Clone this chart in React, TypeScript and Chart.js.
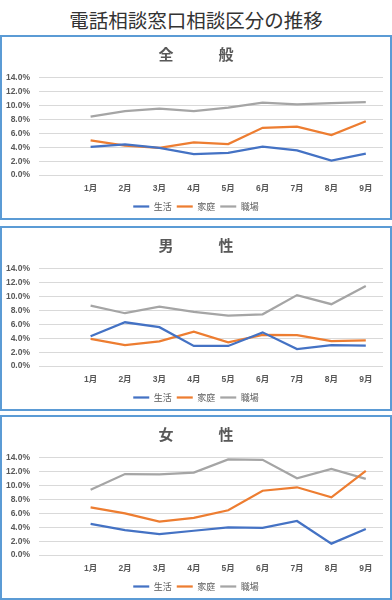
import React, { useEffect, useRef } from 'react';
import { Chart, registerables } from 'chart.js';

Chart.register(...registerables);

const pageTitle = '電話相談窓口相談区分の推移';
const categories = ['', '1月', '2月', '3月', '4月', '5月', '6月', '7月', '8月', '9月'];
const seriesNames = ['生活', '家庭', '職場'];
const seriesColors = ['#4472C4', '#ED7D31', '#A5A5A5'];
const yMin = 0;
const yMax = 14;
const yStep = 2;

const panelTitles = ['全　　　般', '男　　　性', '女　　　性'];

const allLife = [null, 4.05, 4.4, 3.9, 3.0, 3.2, 4.1, 3.55, 2.1, 3.1];
const allHome = [null, 5.0, 4.25, 3.9, 4.7, 4.45, 6.8, 6.95, 5.75, 7.75];
const allWork = [null, 8.4, 9.2, 9.55, 9.2, 9.7, 10.4, 10.15, 10.35, 10.5];

const maleLife = [null, 4.3, 6.3, 5.6, 2.9, 2.9, 4.85, 2.45, 3.0, 2.95];
const maleHome = [null, 3.9, 3.0, 3.55, 4.95, 3.4, 4.5, 4.45, 3.6, 3.7];
const maleWork = [null, 8.7, 7.6, 8.55, 7.8, 7.25, 7.45, 10.2, 8.9, 11.5];

const femaleLife = [null, 4.5, 3.6, 3.0, 3.5, 4.0, 3.9, 4.9, 1.65, 3.75];
const femaleHome = [null, 6.85, 6.0, 4.8, 5.35, 6.45, 9.25, 9.75, 8.3, 12.1];
const femaleWork = [null, 9.4, 11.65, 11.6, 11.85, 13.75, 13.7, 11.05, 12.4, 10.95];

const panelData = [
  [allLife, allHome, allWork],
  [maleLife, maleHome, maleWork],
  [femaleLife, femaleHome, femaleWork],
];

const panelTops = [35, 226, 415];
const PANEL_H = 185;
const BORDER = 2;
const CANVAS_W = 392 - BORDER * 2;
const CANVAS_H = 184;

const JP = "'Liberation Sans', 'Noto Sans CJK JP', sans-serif";

function Panel({ title, series, top }: { title: string; series: (number | null)[][]; top: number }) {
  const ref = useRef<HTMLCanvasElement>(null);
  useEffect(() => {
    if (!ref.current) return;
    const chart = new Chart(ref.current, {
      type: 'line',
      data: {
        labels: categories,
        datasets: seriesNames.map((name, i) => ({
          label: name,
          data: series[i],
          borderColor: seriesColors[i],
          backgroundColor: seriesColors[i],
          borderWidth: 2.25,
          pointRadius: 0,
          tension: 0,
          fill: false,
          yAxisID: 'y',
        })),
      },
      options: {
        responsive: false,
        animation: false,
        devicePixelRatio: 1,
        layout: { padding: { left: 0, right: 0, top: 0, bottom: 0 } },
        plugins: {
          title: {
            display: true,
            text: title,
            color: '#595959',
            font: { family: "'Noto Sans CJK JP', sans-serif", size: 15, weight: 'bold', lineHeight: 1.2 },
            padding: { top: 8, bottom: 14.7 },
          },
          legend: {
            display: true,
            position: 'bottom',
            labels: {
              usePointStyle: true,
              pointStyle: 'line',
              pointStyleWidth: 16,
              padding: 5,
              color: '#595959',
              font: { family: "'Noto Sans CJK JP', sans-serif", size: 9 },
            },
          },
          tooltip: { enabled: false },
        },
        scales: {
          x: {
            offset: true,
            grid: { display: false, drawTicks: false },
            border: { display: false },
            ticks: {
              padding: 8.3,
              color: '#595959',
              maxRotation: 0,
              autoSkip: false,
              font: { family: JP, size: 8.5, weight: 'bold' },
            },
            afterFit: (scale: any) => {
              scale.height = 21.9;
            },
          },
          y: {
            min: yMin,
            max: yMax,
            grid: { color: '#D9D9D9', lineWidth: 1, drawTicks: false },
            border: { display: false },
            ticks: {
              stepSize: yStep,
              autoSkip: false,
              padding: 9,
              color: '#595959',
              font: { family: JP, size: 8.5, weight: 'bold' },
              callback: (v: any) => Number(v).toFixed(1) + '%',
            },
            afterFit: (scale: any) => {
              scale.width = 37;
            },
          },
          yRight: {
            position: 'right',
            display: true,
            min: yMin,
            max: yMax,
            grid: { display: false, drawTicks: false },
            border: { display: false },
            ticks: { display: false },
            afterFit: (scale: any) => {
              scale.width = 7;
            },
          },
        },
      },
    } as any);
    return () => chart.destroy();
  }, [title, series]);

  return (
    <div
      style={{
        position: 'absolute',
        left: 0,
        top,
        width: 392,
        height: PANEL_H,
        boxSizing: 'border-box',
        border: `${BORDER}px solid #5B9BD5`,
        background: '#fff',
      }}
    >
      <canvas
        ref={ref}
        width={CANVAS_W}
        height={CANVAS_H}
        style={{ position: 'absolute', left: 0, top: 0, display: 'block', width: CANVAS_W, height: CANVAS_H }}
      />
    </div>
  );
}

export default function App() {
  return (
    <div style={{ position: 'absolute', left: 0, top: 0, width: 392, height: 600, background: '#fff', overflow: 'hidden' }}>
      <div
        style={{
          position: 'absolute',
          left: 0,
          top: 8,
          width: 392,
          textAlign: 'center',
          fontFamily: "'Noto Sans CJK JP', sans-serif",
          fontSize: 19.5,
          lineHeight: '24px',
          color: '#333333',
        }}
      >
        {pageTitle}
      </div>
      {panelTitles.map((t, i) => (
        <Panel key={i} title={t} series={panelData[i]} top={panelTops[i]} />
      ))}
    </div>
  );
}
